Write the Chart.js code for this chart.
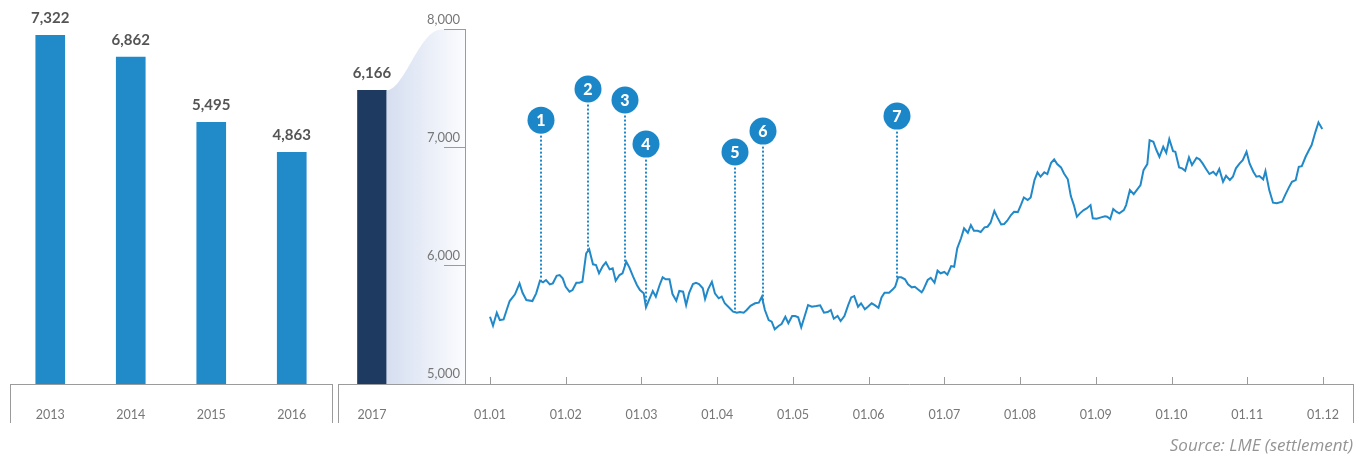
<!DOCTYPE html>
<html>
<head>
<meta charset="utf-8">
<script src="https://cdn.jsdelivr.net/npm/chart.js@4/dist/chart.umd.min.js"></script>
<style>
  html,body{margin:0;padding:0;background:#fff;}
  #wrap{position:relative;width:1368px;height:459px;overflow:hidden;background:#fff;font-family:Lato,sans-serif;}
  .box{position:absolute;top:0;height:459px;}
  #src{position:absolute;right:15px;top:434px;font:italic 17px "Open Sans",sans-serif;color:#949494;line-height:22px;}
</style>
</head>
<body>
<div id="wrap">
  <div class="box" style="left:0;width:340px;"><canvas id="c1"></canvas></div>
  <div class="box" style="left:338px;width:130px;"><canvas id="c2"></canvas></div>
  <div class="box" style="left:338px;width:1030px;"><canvas id="c3"></canvas></div>
  <div id="src">Source: LME (settlement)</div>
</div>
<script>
// ---- data ----
const yearLabels = ['2013', '2014', '2015', '2016'];
const yearValues = [7322, 6862, 5495, 4863];
const currentLabel = ['2017', ''];
const currentValue = [6166, null];
const monthLabels = ['01.01','01.02','01.03','01.04','01.05','01.06','01.07','01.08','01.09','01.10','01.11','01.12'];
const yTicks = [5000, 6000, 7000, 8000];
// t: position in months since 1 January 2017
const t = [0.00,0.04,0.09,0.13,0.18,0.22,0.26,0.33,0.39,0.43,0.48,0.56,0.61,0.66,0.70,0.74,0.79,0.83,0.88,0.92,0.96,1.00,1.05,1.09,1.14,1.18,1.22,1.27,1.31,1.36,1.40,1.44,1.49,1.53,1.58,1.62,1.66,1.71,1.75,1.80,1.84,1.89,1.94,1.98,2.03,2.06,2.10,2.15,2.19,2.24,2.28,2.32,2.37,2.41,2.46,2.50,2.55,2.59,2.63,2.68,2.72,2.76,
2.81,2.84,2.88,2.93,2.97,3.02,3.06,3.10,3.16,3.21,3.26,3.30,3.35,3.39,3.44,3.50,3.55,3.59,3.63,3.68,3.72,3.76,3.81,3.85,3.90,3.94,3.99,4.03,4.07,4.11,4.16,4.20,4.25,4.31,4.36,4.41,4.46,4.50,4.54,4.59,4.63,4.68,4.73,4.77,4.81,4.86,4.90,4.95,4.99,5.04,5.08,5.13,5.17,5.21,5.27,5.32,5.35,5.39,5.43,5.48,5.52,5.57,5.61,5.65,5.70,
5.72,5.78,5.82,5.87,5.91,5.95,6.00,6.04,6.09,6.13,6.17,6.22,6.26,6.31,6.35,6.39,6.44,6.48,6.53,6.57,6.61,6.66,6.70,6.75,6.79,6.83,6.88,6.92,6.97,7.01,7.05,7.10,7.14,7.19,7.23,7.27,7.32,7.36,7.41,7.45,7.49,7.54,7.58,7.63,7.67,7.71,7.75,7.79,7.84,7.88,7.93,7.96,8.01,8.07,8.12,8.15,8.19,8.23,8.27,8.31,8.37,8.40,8.45,8.50,8.54,8.59,8.63,8.68,8.71,8.76,8.80,8.84,8.89,8.93,8.97,9.02,9.05,9.10,9.14,9.18,9.23,9.27,9.33,9.37,9.41,9.46,9.50,9.55,9.59,9.63,9.68,9.72,9.77,9.81,9.85,9.90,9.94,9.99,10.03,10.08,10.12,10.16,10.21,10.24,10.29,10.34,10.39,10.46,10.50,10.55,10.59,10.64,10.68,10.72,10.77,10.81,10.85,10.90,10.94,10.99];
const price = [5569,5493,5603,5541,5547,5626,5702,5759,5852,5772,5711,5702,5767,5874,5860,5880,5843,5852,5916,5922,5894,5823,5781,5795,5857,5857,5865,6106,6140,6013,6007,5937,5998,6030,5970,5979,5874,5922,5937,6035,5987,5908,5838,5795,5767,5649,5711,5787,5739,5838,5903,5886,5886,5761,5705,5787,5781,5668,5772,5846,5857,5846,
5810,5719,5801,5865,5767,5725,5739,5683,5645,5612,5603,5609,5603,5626,5662,5683,5688,5739,5626,5541,5527,5463,5491,5508,5569,5514,5575,5575,5564,5480,5584,5668,5654,5660,5666,5603,5609,5626,5552,5575,5533,5575,5668,5733,5744,5654,5683,5632,5654,5683,5668,5645,5733,5772,5772,5801,5823,5903,5903,5886,5843,5818,5823,5801,5776,
5795,5880,5899,5857,5959,5937,5948,5925,5998,5992,6148,6233,6317,6280,6345,6297,6297,6286,6326,6331,6365,6464,6410,6351,6354,6382,6430,6458,6455,6514,6579,6557,6579,6726,6791,6754,6791,6777,6872,6901,6861,6833,6782,6732,6590,6514,6415,6444,6472,6486,6514,6402,6398,6410,6419,6415,6396,6481,6458,6444,6472,6514,6641,6607,6641,6684,6810,6861,7064,7050,6980,6923,7008,6957,7073,6971,6965,6833,6825,6805,6918,6853,6915,6901,6867,6816,6777,6796,6768,6819,6711,6762,6726,6754,6825,6867,6895,6965,6867,6796,6754,6760,6732,6802,6641,6534,6529,6542,6599,6664,6711,6726,6838,6844,6923,6974,7022,7134,7214,7157];
const markerLabels = ['1','2','3','4','5','6','7'];
const markerT = [0.67, 1.29, 1.78, 2.06, 3.24, 3.61, 5.38];
const markerLevel = [7233, 7496, 7403, 7030, 6963, 7140, 7267];

// ---- styles ----
const BLUE = '#218ac9', NAVY = '#1f3a61', LINE = '#2289c9', AXIS = '#9b9b9b';
const TICK_FONT = {family:'Lato', size:12.5};
const fmt = v => v.toLocaleString('en-US');
Chart.defaults.font.family = 'Lato';
Chart.defaults.animation = false;

function boxFoot(ctx, xs, y0) {
  ctx.save(); ctx.strokeStyle = AXIS; ctx.lineWidth = 1; ctx.beginPath();
  xs.forEach(x => { const px = Math.round(x) + 0.5; ctx.moveTo(px, y0); ctx.lineTo(px, y0 + 39); });
  ctx.stroke(); ctx.restore();
}
function valueLabels(chart, values) {
  const ctx = chart.ctx, meta = chart.getDatasetMeta(0);
  ctx.save(); ctx.font = 'bold 15px Lato'; ctx.fillStyle = '#555'; ctx.textAlign = 'center'; ctx.textBaseline = 'middle';
  meta.data.forEach((bar, i) => { if (values[i] != null) ctx.fillText(fmt(values[i]), bar.x, bar.y - 17.5); });
  ctx.restore();
}
const hiddenY = {display:false, min:0, max:8000};
const xCat = {
  grid:{display:false},
  border:{display:true, color:AXIS, width:1},
  ticks:{font:TICK_FONT, color:'#777', padding:15, maxRotation:0, autoSkip:false},
  afterFit(s){ s.height = 75; }
};

// ---- chart 1: annual averages ----
new Chart(document.getElementById('c1'), {
  type:'bar',
  data:{labels:yearLabels, datasets:[{data:yearValues, backgroundColor:BLUE, barThickness:29}]},
  options:{
    responsive:true, maintainAspectRatio:false,
    layout:{padding:{left:10, right:8, top:3, bottom:0}},
    plugins:{legend:{display:false}, tooltip:{enabled:false}},
    scales:{x:xCat, y:hiddenY}
  },
  plugins:[{id:'p1', afterDatasetsDraw(chart){
    valueLabels(chart, yearValues);
    const a = chart.chartArea; boxFoot(chart.ctx, [a.left, a.right], a.bottom);
  }}]
});

// ---- chart 2: 2017 average ----
const c2 = new Chart(document.getElementById('c2'), {
  type:'bar',
  data:{labels:currentLabel, datasets:[{data:currentValue, backgroundColor:NAVY, barThickness:29}]},
  options:{
    responsive:true, maintainAspectRatio:false,
    layout:{padding:{left:3, right:3, top:3, bottom:0}},
    plugins:{legend:{display:false}, tooltip:{enabled:false}},
    scales:{x:Object.assign({}, xCat, {border:{display:false}}), y:hiddenY}
  },
  plugins:[{id:'p2', afterDatasetsDraw(chart){
    valueLabels(chart, currentValue);
    const a = chart.chartArea, ctx = chart.ctx;
    ctx.save(); ctx.strokeStyle = AXIS; ctx.lineWidth = 1; ctx.beginPath();
    const yb = Math.round(a.bottom) + 0.5; ctx.moveTo(0, yb); ctx.lineTo(a.right, yb); ctx.stroke(); ctx.restore();
    boxFoot(ctx, [0], a.bottom);
  }}]
});

// ---- chart 3: daily LME price ----
function priceAt(x) {
  for (let i = 1; i < t.length; i++) {
    if (t[i] >= x) { const f = (x - t[i-1]) / (t[i] - t[i-1]); return price[i-1] + f * (price[i] - price[i-1]); }
  }
  return price[price.length - 1];
}
new Chart(document.getElementById('c3'), {
  type:'line',
  data:{datasets:[{data:t.map((v, i) => ({x:v, y:price[i]})), borderColor:LINE, borderWidth:2, pointRadius:0, tension:0, fill:false}]},
  options:{
    responsive:true, maintainAspectRatio:false,
    layout:{padding:{left:0, right:15, top:29.5, bottom:0}},
    plugins:{legend:{display:false}, tooltip:{enabled:false}},
    scales:{
      x:{
        type:'linear', min:-0.33, max:11.396,
        grid:{display:false},
        border:{display:true, color:AXIS, width:1},
        afterBuildTicks(s){ s.ticks = monthLabels.map((_, i) => ({value:i})); },
        ticks:{font:TICK_FONT, color:'#777', padding:15, maxRotation:0, autoSkip:false,
               callback:(v) => monthLabels[v] || ''},
        afterFit(s){ s.height = 75; }
      },
      y:{
        min:5000, max:8000,
        afterBuildTicks(s){ s.ticks = yTicks.map(v => ({value:v})); },
        grid:{drawOnChartArea:false, drawTicks:true, tickLength:21, color:AXIS},
        border:{display:true, color:AXIS, width:1},
        ticks:{font:{family:'Lato', size:13}, color:'#777', padding:-16, labelOffset:-10, callback:(v) => fmt(v)},
        afterFit(s){ s.width = 127; }
      }
    }
  },
  plugins:[{
    id:'p3',
    beforeDraw(chart){
      const ctx = chart.ctx, a = chart.chartArea;
      const bar = c2.getDatasetMeta(0).data[0];
      const x0 = bar.x + bar.width / 2, y0 = bar.y;
      const xa = a.left, yt = chart.scales.y.getPixelForValue(8000), yb = a.bottom;
      const w = xa - x0;
      const g = ctx.createLinearGradient(x0, 0, xa, 0);
      g.addColorStop(0, '#d5def0'); g.addColorStop(1, '#fbfcfe');
      ctx.save(); ctx.fillStyle = g; ctx.beginPath();
      ctx.moveTo(x0, yb); ctx.lineTo(x0, y0);
      ctx.bezierCurveTo(x0 + 0.23 * w, y0, x0 + 0.42 * w, yt, x0 + 0.7 * w, yt);
      ctx.lineTo(xa, yt); ctx.lineTo(xa, yb); ctx.closePath(); ctx.fill(); ctx.restore();
    },
    afterDatasetsDraw(chart){
      const ctx = chart.ctx, xs = chart.scales.x, ys = chart.scales.y;
      ctx.save();
      markerT.forEach((m, i) => {
        const px = Math.round(xs.getPixelForValue(m));
        const cy = ys.getPixelForValue(markerLevel[i]);
        const yv = ys.getPixelForValue(priceAt(m));
        const r = 13.5;
        ctx.strokeStyle = LINE; ctx.lineWidth = 2; ctx.setLineDash([2, 2]);
        ctx.beginPath(); ctx.moveTo(px, cy + r + 2); ctx.lineTo(px, yv); ctx.stroke();
        ctx.setLineDash([]);
        ctx.fillStyle = '#1b87c8'; ctx.beginPath(); ctx.arc(px, cy, r, 0, Math.PI * 2); ctx.fill();
        ctx.fillStyle = '#fff'; ctx.font = '900 16px Lato'; ctx.textAlign = 'center'; ctx.textBaseline = 'middle';
        ctx.fillText(markerLabels[i], px, cy + 1);
      });
      ctx.restore();
    },
    afterDraw(chart){
      const ctx = chart.ctx, a = chart.chartArea, xs = chart.scales.x;
      ctx.save(); ctx.strokeStyle = AXIS; ctx.lineWidth = 1; ctx.beginPath();
      monthLabels.forEach((_, i) => {
        const px = Math.round(xs.getPixelForValue(i)) + 0.5;
        ctx.moveTo(px, a.bottom - 7); ctx.lineTo(px, a.bottom);
      });
      ctx.stroke(); ctx.restore();
      boxFoot(ctx, [a.right], a.bottom);
    }
  }]
});
</script>
</body>
</html>
